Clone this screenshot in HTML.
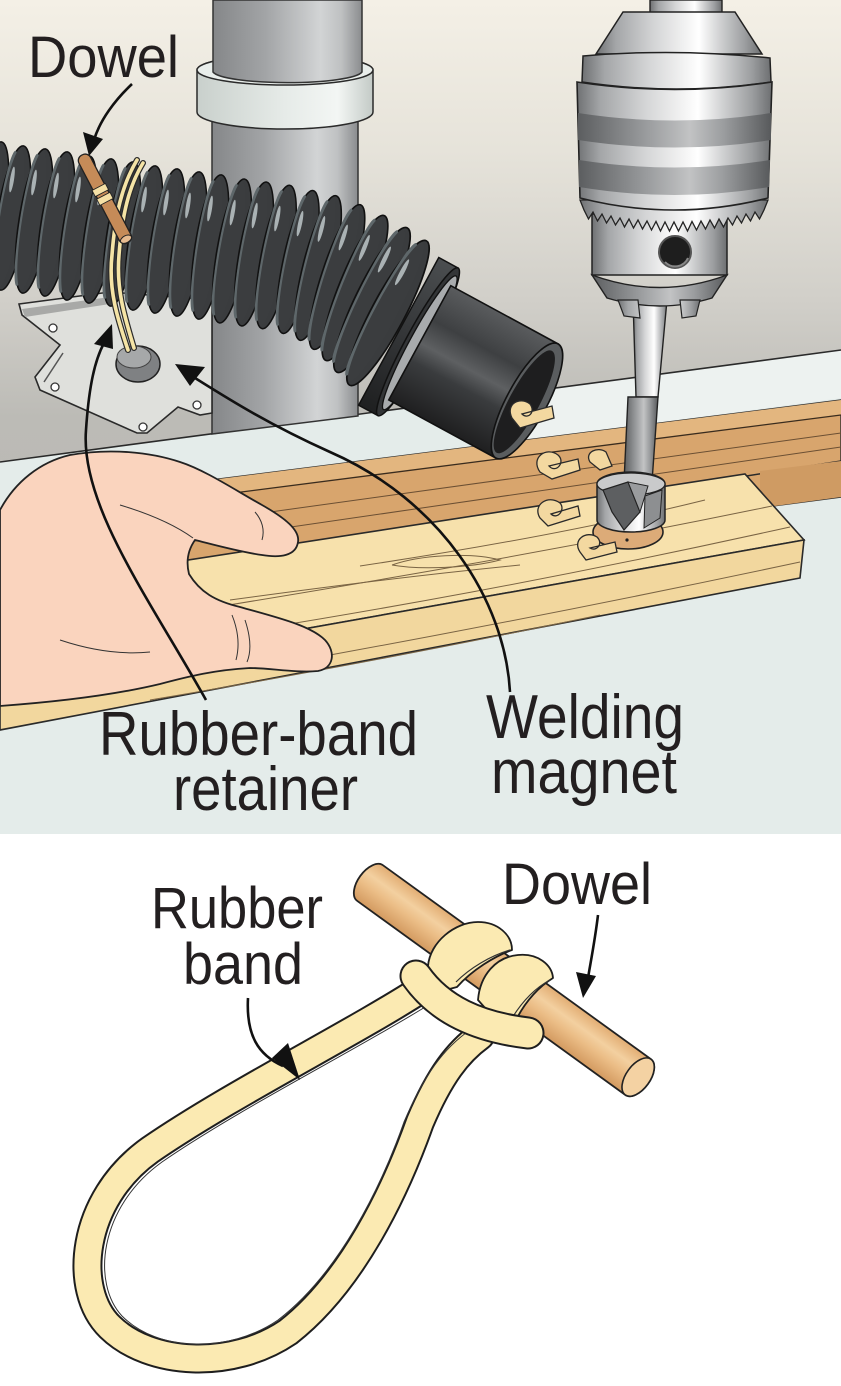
<!DOCTYPE html>
<html><head><meta charset="utf-8"><style>
html,body{margin:0;padding:0;background:#fff;}
svg{display:block;}
text{font-family:"Liberation Sans",sans-serif;fill:#231f20;}
</style></head><body>
<svg xmlns="http://www.w3.org/2000/svg" width="841" height="1386" viewBox="0 0 841 1386">
<defs>
<linearGradient id="wall" x1="0" y1="0" x2="0" y2="1">
<stop offset="0" stop-color="#f4f0e6"/><stop offset="0.18" stop-color="#e6e3da"/><stop offset="0.36" stop-color="#d1cfc9"/><stop offset="0.5" stop-color="#bcbbb6"/><stop offset="1" stop-color="#b5b4af"/>
</linearGradient>
<linearGradient id="col" x1="0" y1="0" x2="1" y2="0">
<stop offset="0" stop-color="#858789"/><stop offset="0.35" stop-color="#a2a4a6"/><stop offset="0.72" stop-color="#d2d4d5"/><stop offset="0.86" stop-color="#bfc1c2"/><stop offset="1" stop-color="#8a8c8e"/>
</linearGradient>
<linearGradient id="collarG" x1="0" y1="0" x2="1" y2="0">
<stop offset="0" stop-color="#c9d0cc"/><stop offset="0.5" stop-color="#e6ebe8"/><stop offset="0.8" stop-color="#f3f6f4"/><stop offset="1" stop-color="#c3cac6"/>
</linearGradient>
<linearGradient id="metal" x1="0" y1="0" x2="1" y2="0">
<stop offset="0" stop-color="#6f7173"/><stop offset="0.12" stop-color="#a4a6a8"/><stop offset="0.35" stop-color="#d4d5d6"/><stop offset="0.55" stop-color="#f4f4f4"/><stop offset="0.62" stop-color="#ffffff"/><stop offset="0.75" stop-color="#cfd0d1"/><stop offset="0.9" stop-color="#9b9d9f"/><stop offset="1" stop-color="#6d6f71"/>
</linearGradient>
<linearGradient id="metalD" x1="0" y1="0" x2="1" y2="0">
<stop offset="0" stop-color="#5c5e60"/><stop offset="0.35" stop-color="#999b9d"/><stop offset="0.58" stop-color="#c2c3c4"/><stop offset="0.75" stop-color="#9c9ea0"/><stop offset="1" stop-color="#585a5c"/>
</linearGradient>
<linearGradient id="nozz" gradientUnits="userSpaceOnUse" x1="0" y1="-65" x2="0" y2="65">
<stop offset="0" stop-color="#5a5c5e"/><stop offset="0.3" stop-color="#3e4042"/><stop offset="0.5" stop-color="#5e6062"/><stop offset="0.65" stop-color="#3a3c3e"/><stop offset="1" stop-color="#1f1f20"/>
</linearGradient>
<linearGradient id="cuffG" gradientUnits="userSpaceOnUse" x1="0" y1="-82" x2="0" y2="82">
<stop offset="0" stop-color="#4a4d4f"/><stop offset="0.5" stop-color="#343638"/><stop offset="1" stop-color="#1f2021"/>
</linearGradient>
<linearGradient id="dowelG" gradientUnits="userSpaceOnUse" x1="0" y1="-22" x2="0" y2="22">
<stop offset="0" stop-color="#e2ad73"/><stop offset="0.35" stop-color="#f3d0a0"/><stop offset="0.6" stop-color="#ebbd86"/><stop offset="1" stop-color="#d39a60"/>
</linearGradient>
<g id="rib">
<ellipse rx="15" ry="73" fill="#3a3c3e" stroke="#111" stroke-width="1.5"/>
<ellipse cx="-7" rx="7" ry="67" fill="#5e676a"/>
<ellipse cx="-2" rx="10" ry="70" fill="#3b3d3f"/>
<ellipse cx="-6" cy="-38" rx="2" ry="13" fill="#aab2b4"/>
</g>
</defs>

<!-- TOP PANEL BACKGROUND -->
<rect x="0" y="0" width="841" height="834" fill="url(#wall)"/>
<polygon points="0,462 841,350 841,834 0,834" fill="#e4ecea"/>
<polygon points="470,399 841,350 841,398 470,448" fill="#edf2f0"/>
<path d="M0,462 L841,350" stroke="#2a2a2a" stroke-width="1.6"/>

<!-- column -->
<polygon points="212,70 358,70 358,416 212,434" fill="url(#col)" stroke="#333" stroke-width="1.5"/>
<path d="M197,70 A88,15 0 0 1 373,70 L373,112 A88,17 0 0 1 197,112 Z" fill="url(#collarG)" stroke="#2a2a2a" stroke-width="1.5"/>
<ellipse cx="285" cy="70" rx="88" ry="15" fill="#e9eeeb" stroke="#2a2a2a" stroke-width="1.5"/>
<path d="M213,0 L362,0 L362,72 A75,12 0 0 1 213,72 Z" fill="url(#col)" stroke="#333" stroke-width="1.5"/>

<!-- plate -->
<polygon points="19,304 110,292 212,300 212,413 200,415 178,407 147,433 137,433 40,390 35,377 60,345 22,315" fill="#dfe0dc" stroke="#2a2a2a" stroke-width="1.6"/>
<polygon points="22,309 110,297 110,304 25,317" fill="#a8a9a7"/>
<path d="M44,382 L63,353" stroke="#555" stroke-width="1.5" fill="none"/>
<circle cx="53" cy="328" r="4" fill="#fff" stroke="#333" stroke-width="1.3"/>
<circle cx="55" cy="387" r="4" fill="#fff" stroke="#333" stroke-width="1.3"/>
<circle cx="143" cy="427" r="4" fill="#fff" stroke="#333" stroke-width="1.3"/>
<circle cx="197" cy="405" r="4" fill="#fff" stroke="#333" stroke-width="1.3"/>
<ellipse cx="138" cy="364" rx="22" ry="18" fill="#7f8183" stroke="#222" stroke-width="1.5"/>
<ellipse cx="134" cy="357" rx="17" ry="11" fill="#a6a8a9" stroke="#444" stroke-width="1"/>

<!-- back fence board -->
<polygon points="140,489 841,400 841,497 140,590" fill="#d8a56d" stroke="#2a2a2a" stroke-width="1.4"/>
<polygon points="140,489 841,400 841,415 140,505" fill="#e3b67f"/>
<path d="M140,505 L841,415" stroke="#3a2c1e" stroke-width="1.3"/>
<path d="M140,530 L841,433 M140,549 L841,447" stroke="#6b4f33" stroke-width="1" fill="none"/>
<path d="M140,572 L841,461" stroke="#2a2a2a" stroke-width="1.5"/>
<polygon points="760,471 841,461 841,497 760,508" fill="#cf9b63"/>

<!-- front block -->
<polygon points="0,589 745,474 804,540 0,683" fill="#f7e1ac" stroke="#2a2a2a" stroke-width="1.6"/>
<polygon points="0,683 804,540 800,578 0,730" fill="#f2d79e" stroke="#2a2a2a" stroke-width="1.6"/>
<g stroke="#7a6444" stroke-width="1" fill="none">
<path d="M150,618 C320,590 520,558 772,506"/>
<path d="M190,640 C370,612 560,578 790,527"/>
<path d="M360,566 C480,548 600,526 705,500"/>
<path d="M392,565 C420,555 470,552 500,560 C470,568 420,570 392,565"/>
<path d="M230,600 C340,585 420,575 520,565"/>
<path d="M330,655 C500,624 650,594 800,562"/>
<path d="M150,700 C330,670 480,640 600,615"/>
</g>

<!-- hole -->
<ellipse cx="628" cy="532" rx="35" ry="17" fill="#dcab78" stroke="#222" stroke-width="1.6"/>
<circle cx="627" cy="540" r="1.6" fill="#222"/>

<!-- shavings -->
<g fill="#f3d8a0" stroke="#2a2a2a" stroke-width="1.3">
<path d="M540,472 C530,458 546,446 558,455 C566,462 556,474 549,466 L578,459 L580,470 L552,479 Z"/>
<path d="M540,518 C532,505 548,494 560,503 C566,510 557,520 551,514 L578,506 L580,516 L548,526 Z"/>
<path d="M580,552 C572,540 586,530 597,537 C604,544 596,552 590,548 L615,542 L617,552 L586,560 Z"/>
<path d="M590,462 C584,452 598,446 606,452 L612,466 L600,470 Z"/>
</g>

<!-- hose ribs -->
<use href="#rib" transform="translate(-10,214) rotate(9)"/>
<use href="#rib" transform="translate(12,218) rotate(9)"/>
<use href="#rib" transform="translate(34,221) rotate(9)"/>
<use href="#rib" transform="translate(56,224) rotate(9)"/>
<use href="#rib" transform="translate(78,228) rotate(9)"/>
<use href="#rib" transform="translate(100,231) rotate(9)"/>
<use href="#rib" transform="translate(122,234) rotate(9)"/>
<use href="#rib" transform="translate(144,238) rotate(9)"/>
<use href="#rib" transform="translate(166,241) rotate(9)"/>
<use href="#rib" transform="translate(188,244) rotate(9)"/>
<use href="#rib" transform="translate(210,247) rotate(9)"/>
<use href="#rib" transform="translate(232,251) rotate(10)"/>
<use href="#rib" transform="translate(254,254) rotate(10)"/>
<use href="#rib" transform="translate(276,257) rotate(11)"/>
<use href="#rib" transform="translate(298,262) rotate(12)"/>
<use href="#rib" transform="translate(318,268) rotate(14) scale(1.02)"/>
<use href="#rib" transform="translate(337,277) rotate(18) scale(1.04)"/>
<use href="#rib" transform="translate(355,288) rotate(22) scale(1.07)"/>
<use href="#rib" transform="translate(372,300) rotate(26) scale(1.1)"/>
<use href="#rib" transform="translate(388,313) rotate(28) scale(1.12)"/>

<!-- nozzle -->
<g transform="translate(527,401) rotate(28.5)">
<path d="M-146,-84 L-124,-84 L-124,84 L-146,84 Z" fill="url(#cuffG)" stroke="#111" stroke-width="1.5"/>
<ellipse cx="-124" cy="0" rx="12" ry="84" fill="#333537" stroke="#111" stroke-width="1.5"/>
<ellipse cx="-122" cy="0" rx="10" ry="76" fill="#a8abad" stroke="#111" stroke-width="1.3"/>
<path d="M-122,-65 L0,-65 L0,65 L-122,65 Z" fill="url(#nozz)" stroke="#111" stroke-width="1.6"/>
<ellipse cx="0" cy="0" rx="20" ry="65" fill="#5a5d5f" stroke="#111" stroke-width="1.6"/>
<ellipse cx="-2" cy="2" rx="15" ry="58" fill="#1e1e1f"/>
</g>
<path d="M512,418 C505,404 520,396 530,404 C536,412 528,420 522,414 L552,406 L554,418 L520,428 Z" fill="#f3d8a0" stroke="#2a2a2a" stroke-width="1.3"/>

<!-- rubber band strands and dowel (top) -->
<g fill="none" stroke-linecap="round">
<path d="M128,350 C118,320 108,290 112,255 C115,215 122,185 137,160" stroke="#2a2a2a" stroke-width="6"/>
<path d="M128,350 C118,320 108,290 112,255 C115,215 122,185 137,160" stroke="#f5e4a6" stroke-width="3.6"/>
<path d="M134,348 C125,318 116,290 119,255 C122,215 129,186 143,163" stroke="#2a2a2a" stroke-width="6"/>
<path d="M134,348 C125,318 116,290 119,255 C122,215 129,186 143,163" stroke="#f5e4a6" stroke-width="3.6"/>
</g>
<g transform="translate(82,155) rotate(62.4)">
<rect x="0" y="-6.5" width="99" height="13" rx="6" fill="#c58b58" stroke="#222" stroke-width="1.3"/>
<ellipse cx="95" cy="0" rx="3.5" ry="6" fill="#e6bb90" stroke="#222" stroke-width="1"/>
<rect x="36" y="-7.5" width="7" height="15" fill="#f5e0a5" stroke="#222" stroke-width="0.9"/>
<rect x="46" y="-7.5" width="7" height="15" fill="#f5e0a5" stroke="#222" stroke-width="0.9"/>
</g>

<!-- drill bit -->
<polygon points="633,300 667,300 658,397 636,397" fill="url(#metal)" stroke="#222" stroke-width="1.4"/>
<polygon points="628,397 658,397 652,482 624,482" fill="url(#metalD)" stroke="#222" stroke-width="1.4"/>
<path d="M597,484 L597,520 A34,12 0 0 0 665,520 L665,484 A34,12 0 0 0 597,484 Z" fill="url(#metal)" stroke="#222" stroke-width="1.5"/>
<ellipse cx="631" cy="484" rx="34" ry="11" fill="#c9cacb" stroke="#222" stroke-width="1.3"/>
<polygon points="603,490 628,482 640,512 624,530 612,512" fill="#5d5f61" stroke="#222" stroke-width="1.2"/>
<polygon points="628,482 648,486 640,512" fill="#9a9c9e" stroke="#222" stroke-width="1"/>
<polygon points="645,496 662,490 660,518 644,528" fill="#8d8f91" stroke="#222" stroke-width="1"/>

<!-- chuck -->
<rect x="650" y="0" width="72" height="16" fill="url(#metal)" stroke="#222" stroke-width="1.4"/>
<path d="M592,275 L727,275 L727,214 L592,214 Z" fill="url(#metal)" stroke="#222" stroke-width="1.5"/>
<path d="M592,275 Q660,300 727,275 L712,298 Q660,314 607,298 Z" fill="url(#metalD)" stroke="#222" stroke-width="1.4"/>
<path d="M618,300 L638,300 L640,318 L624,316 Z M680,300 L700,300 L696,316 L682,318 Z" fill="url(#metal)" stroke="#222" stroke-width="1.2"/>
<path d="M580,200 L584,210 L588.5,219 L593,212 L597.5,221 L602,214 L606.5,223 L611,216 L615.5,225 L620,218 L624.5,227 L629,219 L633.5,228 L638,220 L642.5,229 L647,221 L651.5,230 L656,221.5 L660.5,231 L665,222 L669.5,231 L674,222 L678.5,231 L683,222 L687.5,231 L692,221.5 L696.5,230 L701,221 L705.5,229 L710,220 L714.5,228 L719,219 L723.5,227 L728,218 L732.5,225 L737,216 L741.5,223 L746,214 L750.5,221 L755,212 L759.5,219 L764,210 L768,200 Z" fill="url(#metal)" stroke="#222" stroke-width="1.3"/>
<path d="M623,12 L735,12 L762,54 L596,54 Z" fill="url(#metal)" stroke="#222" stroke-width="1.5"/>
<path d="M583,56 Q676,48 770,58 L771,82 Q676,96 582,82 Z" fill="url(#metal)" stroke="#222" stroke-width="1.5"/>
<path d="M577,82 Q675,97 772,82 L768,198 Q674,222 580,198 Z" fill="url(#metal)" stroke="#222" stroke-width="1.6"/>
<path d="M578,113 Q675,128 771,113 L771,140 Q675,155 578,140 Z" fill="url(#metalD)"/>
<path d="M579,160 Q675,175 770,160 L769,187 Q675,203 579,187 Z" fill="url(#metalD)"/>
<circle cx="675" cy="252" r="16" fill="#1e1e1e" stroke="#555" stroke-width="2"/>
<path d="M665,262 A14,14 0 0 0 688,258" stroke="#888" stroke-width="2" fill="none"/>

<!-- hand -->
<path d="M0,510 C15,482 40,462 70,455 C110,448 150,452 180,462 C205,470 235,490 262,505 C285,518 300,530 298,542 C296,556 280,558 262,555 C240,552 215,545 195,540 C188,550 186,562 189,574 C200,592 215,601 240,607 C275,617 310,625 325,640 C336,652 334,668 318,671 C295,673 270,668 250,668 C215,670 190,676 160,684 C110,696 55,702 0,706 Z" fill="#fad4be" stroke="#222" stroke-width="1.8"/>
<g stroke="#333" stroke-width="1" fill="none">
<path d="M120,505 C150,514 175,525 193,538"/>
<path d="M232,615 C238,630 240,645 236,660"/>
<path d="M245,620 C250,635 252,650 247,662"/>
<path d="M255,512 C262,520 265,530 262,540"/>
<path d="M60,640 C90,650 120,655 150,652"/>
</g>

<!-- top arrows -->
<g fill="none" stroke="#111" stroke-width="2.6">
<path d="M132,84 C115,100 100,120 94,140"/>
<path d="M206,700 C150,600 80,505 86,430 C89,385 95,360 104,343"/>
<path d="M510,692 C505,600 440,500 330,452 C270,425 230,400 195,378"/>
</g>
<g fill="#111">
<polygon points="89,156 83,132 103,139"/>
<polygon points="112,324 94,344 113,349"/>
<polygon points="175,364 190,386 205,367"/>
</g>

<!-- top labels -->
<text x="28" y="77" font-size="58" textLength="151" lengthAdjust="spacingAndGlyphs">Dowel</text>
<text x="99" y="755" font-size="62" textLength="319" lengthAdjust="spacingAndGlyphs">Rubber-band</text>
<text x="173" y="810" font-size="62" textLength="185" lengthAdjust="spacingAndGlyphs">retainer</text>
<text x="486" y="738" font-size="62" textLength="198" lengthAdjust="spacingAndGlyphs">Welding</text>
<text x="491" y="793" font-size="62" textLength="186" lengthAdjust="spacingAndGlyphs">magnet</text>

<!-- BOTTOM PANEL -->
<!-- dowel -->
<g transform="translate(370,883) rotate(35.9)">
<path d="M0,-22 L331,-22 A12,22 0 0 1 331,22 L0,22 A12,22 0 0 1 0,-22 Z" fill="url(#dowelG)" stroke="#222" stroke-width="1.8"/>
<ellipse cx="331" cy="0" rx="12" ry="22" fill="#f4d2a3" stroke="#222" stroke-width="1.6"/>
</g>
<!-- loop -->
<g fill="none" stroke-linecap="round">
<path d="M420,990 C350,1035 230,1095 150,1150 C80,1200 72,1290 110,1327 C150,1366 232,1370 288,1332 C352,1282 395,1192 420,1122 C440,1075 458,1052 480,1036" stroke="#1e1e1e" stroke-width="30"/>
<path d="M420,990 C350,1035 230,1095 150,1150 C80,1200 72,1290 110,1327 C150,1366 232,1370 288,1332 C352,1282 395,1192 420,1122 C440,1075 458,1052 480,1036" stroke="#fbeab2" stroke-width="26"/>
<path d="M430,1004 C360,1048 240,1108 162,1162 C98,1208 92,1284 122,1316 C158,1352 228,1354 278,1320 C338,1274 380,1190 404,1122 C424,1075 444,1048 470,1030" stroke="#333" stroke-width="1"/>
</g>
<!-- wraps -->
<path d="M428,966 C430,942 455,922 478,922 C498,922 512,935 512,950 C495,956 472,970 457,987 L438,992 Z" fill="#fbeab2" stroke="#1e1e1e" stroke-width="1.8" stroke-linejoin="round"/>
<path d="M456,982 C470,968 490,956 510,950" stroke="#333" stroke-width="1.2" fill="none"/>
<path d="M478,1000 C480,975 496,957 518,955 C538,953 552,965 553,978 C540,986 526,1000 516,1020 L494,1018 Z" fill="#fbeab2" stroke="#1e1e1e" stroke-width="1.8" stroke-linejoin="round"/>
<path d="M512,1018 C522,1002 535,988 550,980" stroke="#333" stroke-width="1.2" fill="none"/>
<!-- crossing piece -->
<g fill="none" stroke-linecap="round">
<path d="M416,976 C440,1010 478,1027 528,1033" stroke="#1e1e1e" stroke-width="33"/>
<path d="M416,976 C440,1010 478,1027 528,1033" stroke="#fbeab2" stroke-width="29"/>
</g>

<!-- bottom arrows -->
<g fill="none" stroke="#111" stroke-width="2.6">
<path d="M248,998 C246,1035 258,1055 283,1066"/>
<path d="M598,915 C595,940 591,960 588,978"/>
</g>
<g fill="#111">
<polygon points="300,1080 272,1058 288,1043"/>
<polygon points="583,998 576,972 596,976"/>
</g>

<!-- bottom labels -->
<text x="151" y="928" font-size="58" textLength="172" lengthAdjust="spacingAndGlyphs">Rubber</text>
<text x="183" y="984" font-size="58" textLength="120" lengthAdjust="spacingAndGlyphs">band</text>
<text x="502" y="904" font-size="58" textLength="150" lengthAdjust="spacingAndGlyphs">Dowel</text>
</svg>
</body></html>
